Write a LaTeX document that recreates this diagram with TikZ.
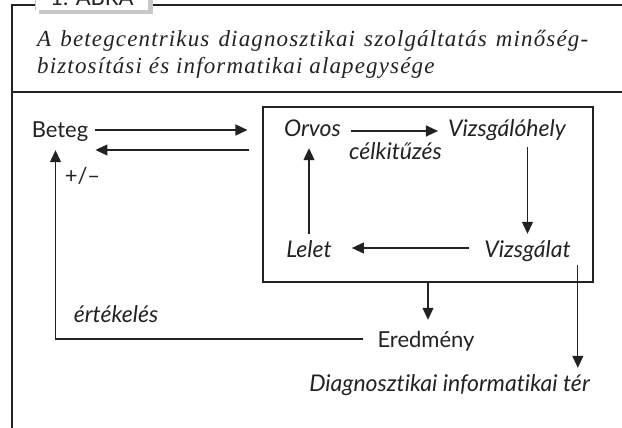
\documentclass[tikz,border=0pt]{standalone}
\usepackage{fontspec}
\setmainfont{Liberation Serif}
\newfontfamily\titlefont{Liberation Serif}[LetterSpace=5]
\newfontfamily\labelfont{Lato}[Ligatures={TeX,NoCommon}]
\usetikzlibrary{arrows.meta, positioning}
\definecolor{framegray}{HTML}{222222}
\definecolor{shadowgray}{HTML}{C8C8C8}
\tikzset{
	textnode/.style={
			inner sep=3pt,
			text height=14pt,
			text depth=2pt,
			text=framegray,
			font=\labelfont\fontsize{22}{26}\selectfont
		},
	italicnode/.style={
			textnode,
			font=\labelfont\itshape\fontsize{23}{27}\selectfont
		},
	titlenode/.style={
			anchor=base west,
			inner sep=0pt,
			text=framegray,
			font=\titlefont\itshape\fontsize{23}{27}\selectfont
		},
	arr/.style={
			-{Triangle[length=12pt,width=11pt]},
			line width=1.1pt,
			draw=framegray
		},
	frameline/.style={
			line width=1.4pt,
			draw=framegray
		}
}

\begin{document}
\begin{tikzpicture}[x=1pt, y=-1pt]
  \useasboundingbox (0,0) rectangle (622,428);

  % frame and tab
  \draw[frameline] (12,428) -- (12,5) -- (622,5);
  \draw[frameline] (12,92) -- (622,92);
  \fill[shadowgray] (39,-10) rectangle (153,14);
  \fill[white] (35,-10) rectangle (148,10);
  \draw[shadowgray, line width=0.6pt] (35,-10) -- (35,10);
  \node[anchor=base, text=framegray, font=\labelfont\fontsize{22}{26}\selectfont] (tab) at (92,6) {1. ÁBRA};

  \node[titlenode] (title1) at (37,47) {\makebox[551pt][s]{A betegcentrikus diagnosztikai szolgáltatás minőség-}};
  \node[titlenode] (title2) at (37,74) {biztosítási és informatikai alapegysége};

  \node[draw=framegray, line width=1.1pt, minimum width=330pt, minimum height=175pt, inner sep=0pt] (kor) at (428,194.5) {};

  \node[textnode] (beteg) at (60,132) {Beteg};
  \node[textnode] (pm) at (82.5,177) {+/–};
  \node[italicnode] (orvos) at (312.5,131) {Orvos};
  \node[italicnode] (vizsgaloh) at (507,131) {Vizsgálóhely};
  \node[italicnode] (celk) at (395.5,154) {célkitűzés};
  \node[italicnode] (lelet) at (309,251) {Lelet};
  \node[italicnode] (vizsgalat) at (527.5,251) {Vizsgálat};
  \node[italicnode] (ertek) at (116,316) {értékelés};
  \node[textnode] (eredmeny) at (426,341) {Eredmény};
  \node[italicnode, anchor=east] (diag) at (593,385) {Diagnosztikai informatikai tér};

  \draw[arr, shorten <=4pt, shorten >=15pt] ([yshift=2pt]beteg.east) -- ([yshift=2pt]beteg.east -| kor.west);
  \draw[arr, shorten <=13pt, shorten >=4pt] ([yshift=-18pt]beteg.east -| kor.west) -- ([yshift=-18pt]beteg.east);
  \draw[arr, shorten <=7pt, shorten >=7pt] (orvos.east) -- (vizsgaloh.west);
  \draw[arr, shorten <=5pt, shorten >=6pt] (vizsgalat.north |- vizsgaloh.south) -- (vizsgalat.north);
  \draw[arr, shorten <=12pt, shorten >=17pt] ([yshift=3pt]vizsgalat.west) -- ([yshift=3pt]lelet.east);
  \draw[arr, shorten <=6pt, shorten >=6pt] (lelet.north) -- (lelet.north |- orvos.south);
  \draw[arr, shorten >=10pt] (kor.south) -- (kor.south |- eredmeny.north);
  \draw[arr, shorten <=3pt, shorten >=6pt] ([xshift=4pt]vizsgalat.south east) -- ([xshift=4pt]vizsgalat.south east |- diag.north);
  \draw[arr, shorten <=11pt, shorten >=7pt] ([yshift=2pt]eredmeny.west) -| ([xshift=-4.5pt]beteg.south);

\end{tikzpicture}
\end{document}
